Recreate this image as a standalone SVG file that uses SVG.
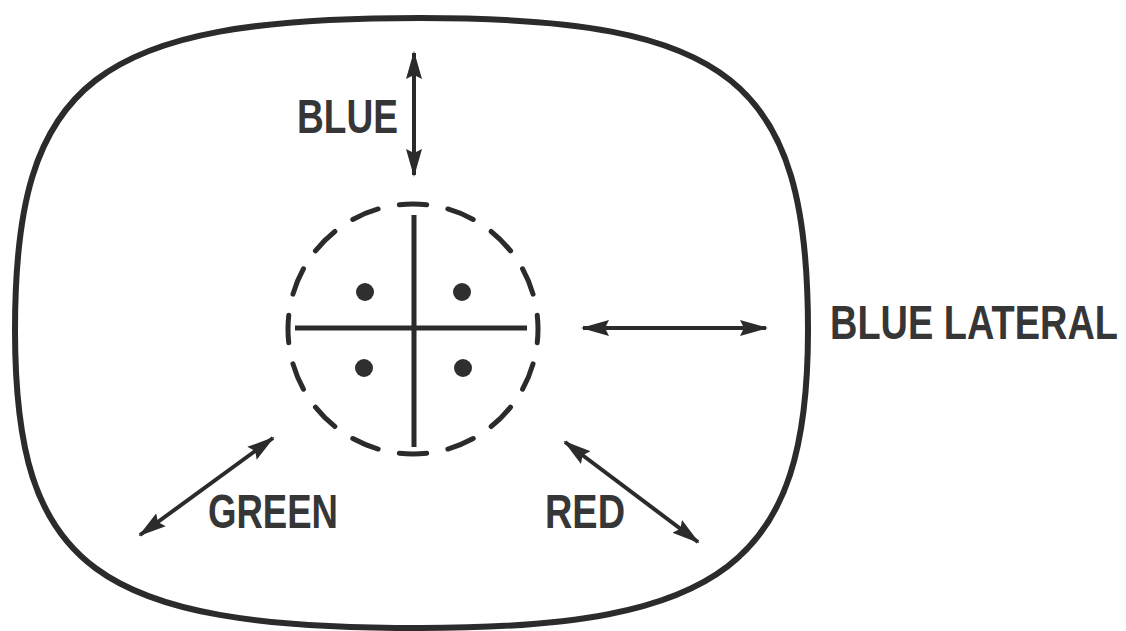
<svg xmlns="http://www.w3.org/2000/svg" width="1126" height="631" viewBox="0 0 1126 631">
  <style>
    .frame { fill: none; stroke: #2b2b2b; stroke-width: 6; stroke-linejoin: round; }
    .ring { fill: none; stroke: #2b2b2b; stroke-width: 5; stroke-linecap: round; stroke-dasharray: 28 22; stroke-dashoffset: 14; }
    .cross { stroke: #2b2b2b; stroke-width: 5; stroke-linecap: butt; }
    .dot { fill: #2f2f2f; }
    .arrow { stroke: #2b2b2b; stroke-width: 4; fill: none; marker-start: url(#head); marker-end: url(#head); }
    .label { font-family: "Liberation Sans", Arial, sans-serif; font-weight: bold; font-size: 38px; fill: #363636; }
  </style>
  <defs>
    <marker id="head" viewBox="0 0 28 20" refX="26" refY="10" markerWidth="28" markerHeight="20" markerUnits="userSpaceOnUse" orient="auto-start-reverse">
      <path d="M0,2 L28,10 L0,18 L4,10 Z" fill="#2b2b2b"/>
    </marker>
  </defs>
  <rect width="1126" height="631" fill="#ffffff"/>

  <g id="screen">
    <path class="frame" d="M420,18 C730,18 808,80 808,330 C808,563 723,628 420,628 C95,628 15,568 15,330 C15,80 95,18 420,18 Z"/>
  </g>

  <g id="convergence-target">
    <circle class="ring" cx="413" cy="329" r="125" pathLength="800"/>
    <line class="cross" x1="414" y1="215" x2="414" y2="447"/>
    <line class="cross" x1="295" y1="328" x2="527" y2="328"/>
    <circle class="dot" cx="365" cy="292" r="9"/>
    <circle class="dot" cx="462" cy="292" r="9"/>
    <circle class="dot" cx="364" cy="368" r="9"/>
    <circle class="dot" cx="463" cy="368" r="9"/>
  </g>

  <g id="connectors">
    <line class="arrow" x1="414" y1="53" x2="414" y2="175"/>
    <line class="arrow" x1="583" y1="328" x2="766" y2="328"/>
    <line class="arrow" x1="140" y1="535" x2="273" y2="438"/>
    <line class="arrow" x1="565" y1="442" x2="698" y2="542"/>
  </g>

  <g id="label-blue" transform="translate(297,133) scale(1,1.25)">
    <text class="label" x="0" y="0" textLength="101" lengthAdjust="spacingAndGlyphs">BLUE</text>
  </g>
  <g id="label-blue-lateral" transform="translate(830,339) scale(1,1.25)">
    <text class="label" x="0" y="0" textLength="288" lengthAdjust="spacingAndGlyphs">BLUE LATERAL</text>
  </g>
  <g id="label-green" transform="translate(208,528) scale(1,1.25)">
    <text class="label" x="0" y="0" textLength="130" lengthAdjust="spacingAndGlyphs">GREEN</text>
  </g>
  <g id="label-red" transform="translate(545,528) scale(1,1.25)">
    <text class="label" x="0" y="0" textLength="80" lengthAdjust="spacingAndGlyphs">RED</text>
  </g>
</svg>
